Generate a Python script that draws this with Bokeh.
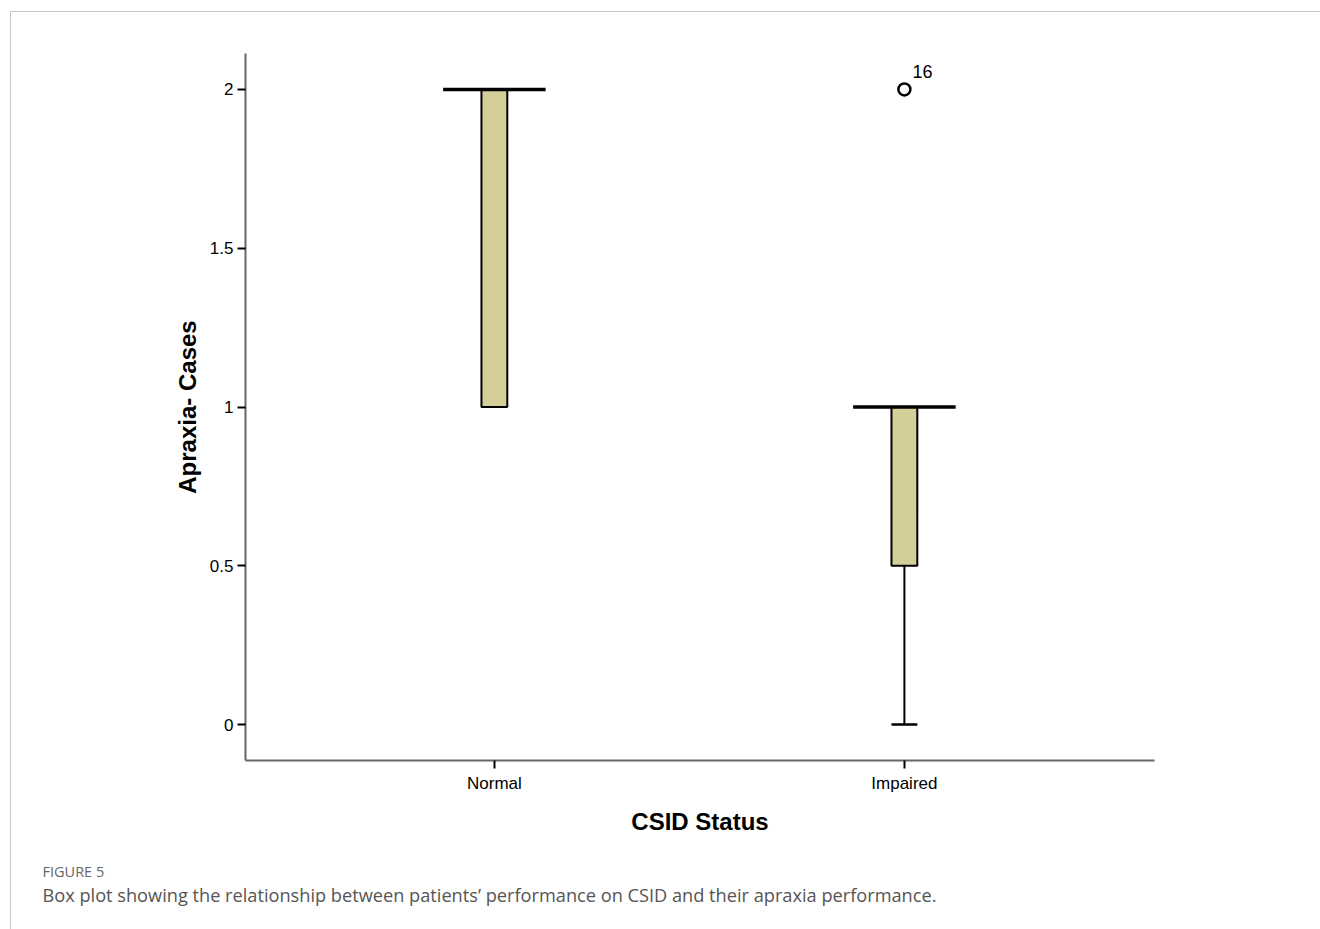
from bokeh.plotting import figure
from bokeh.models import Range1d, FixedTicker, Title, ColumnDataSource
from bokeh.core.properties import value
from bokeh.embed import file_html
from bokeh.resources import INLINE

# ---- data ----
categories = ["Normal", "Impaired"]
positions = [1, 2]
q1 = [1.0, 0.5]
median = [2.0, 1.0]
q3 = [2.0, 1.0]
whisker_low = [1.0, 0.0]
whisker_high = [2.0, 1.0]
outlier_pos = [2]
outlier_val = [2.0]
outlier_case = ["16"]
y_ticks = [0, 0.5, 1, 1.5, 2]
y_tick_labels = ["0", "0.5", "1", "1.5", "2"]

BOX_W = 0.063
MED_W = 0.25
FILL = "#d4cf98"

W, H = 1320, 929
FL, FR, FT, FB = 245, 1154, 53, 760   # frame edges in canvas px
X0, X1 = 0.393, 2.61
Y0, Y1 = -0.113, 2.113

p = figure(width=W, height=H, output_backend="svg", toolbar_location=None,
           x_range=Range1d(X0, X1), y_range=Range1d(Y0, Y1),
           min_border_left=FL, min_border_right=W - FR, min_border_top=FT, min_border_bottom=H - FB)
p.xgrid.visible = False
p.ygrid.visible = False
p.outline_line_color = None
p.background_fill_color = "white"
p.border_fill_color = None
p.styles = {
    "background-color": "white",
    "background-image": "linear-gradient(#c8c8c8, #c8c8c8), linear-gradient(#c8c8c8, #c8c8c8)",
    "background-size": "1310px 1px, 1px 918px",
    "background-position": "10px 11px, 10px 11px",
    "background-repeat": "no-repeat",
}

# axes
for ax in (p.xaxis[0], p.yaxis[0]):
    ax.axis_line_color = "#666666"
    ax.axis_line_width = 2
    ax.major_tick_line_color = "black"
    ax.major_tick_line_width = 2
    ax.major_tick_out = 8
    ax.major_tick_in = 0
    ax.minor_tick_line_color = None
    ax.major_label_text_font = "Liberation Sans"
    ax.major_label_text_font_size = "17px"
    ax.major_label_text_color = "black"
    ax.axis_label_text_font = "Liberation Sans"
    ax.axis_label_text_font_style = "bold"
    ax.axis_label_text_font_size = "24px"
    ax.axis_label_text_color = "black"

p.xaxis.ticker = FixedTicker(ticks=positions)
p.xaxis.major_label_overrides = {pos: cat for pos, cat in zip(positions, categories)}
p.xaxis.axis_label = "CSID Status"
p.xaxis.major_label_standoff = 5
p.xaxis.axis_label_standoff = 12

p.yaxis.ticker = FixedTicker(ticks=y_ticks)
p.yaxis.major_label_overrides = {t: l for t, l in zip(y_ticks, y_tick_labels)}
p.yaxis.axis_label = "Apraxia- Cases"
p.yaxis.major_label_standoff = 4
p.yaxis.axis_label_standoff = 6

# whiskers (only where they extend beyond the box)
lw_x, lw_y0, lw_y1 = [], [], []
cap_x0, cap_x1, cap_y = [], [], []
for pos, lo, hi, a, b in zip(positions, whisker_low, whisker_high, q1, q3):
    if lo < a:
        lw_x.append(pos); lw_y0.append(lo); lw_y1.append(a)
        cap_x0.append(pos - BOX_W / 2); cap_x1.append(pos + BOX_W / 2); cap_y.append(lo)
    if hi > b:
        lw_x.append(pos); lw_y0.append(b); lw_y1.append(hi)
        cap_x0.append(pos - BOX_W / 2); cap_x1.append(pos + BOX_W / 2); cap_y.append(hi)
p.segment(x0=lw_x, y0=lw_y0, x1=lw_x, y1=lw_y1, line_color="black", line_width=2)
p.segment(x0=cap_x0, y0=cap_y, x1=cap_x1, y1=cap_y, line_color="black", line_width=2.5)

# boxes
p.vbar(x=positions, width=BOX_W, bottom=q1, top=q3, fill_color=FILL,
       line_color="black", line_width=2)

# median lines
p.segment(x0=[x - MED_W / 2 for x in positions], y0=median,
          x1=[x + MED_W / 2 for x in positions], y1=median,
          line_color="black", line_width=3.5)

# outliers
src = ColumnDataSource(dict(x=outlier_pos, y=outlier_val, t=outlier_case))
p.scatter(x="x", y="y", source=src, size=12, marker="circle", fill_color="white",
          line_color="black", line_width=2.5)
p.text(x="x", y="y", text="t", source=src, x_offset=8, y_offset=-18,
       text_font=value("Liberation Sans"), text_font_size="18px", text_color="black",
       text_baseline="alphabetic", text_align="left")

# caption (a spacer title first, then the figure label and caption)
p.add_layout(Title(text=" ", standoff=20, text_font_size="1px"), "below")
p.add_layout(Title(text="FIGURE 5", align="left", offset=-(FL - 42), standoff=0,
                   vertical_align="middle",
                   text_font="Open Sans", text_font_size="14.5px", text_font_style="normal",
                   text_color="#666666"), "below")
p.add_layout(Title(text="Box plot showing the relationship between patients\u2019 performance on CSID and their apraxia performance.",
                   align="left", offset=-(FL - 42), standoff=0, vertical_align="middle",
                   text_font="Open Sans", text_font_size="18.2px", text_font_style="normal",
                   text_color="#555555"), "below")

open("out.html", "w").write(file_html(p, INLINE))
